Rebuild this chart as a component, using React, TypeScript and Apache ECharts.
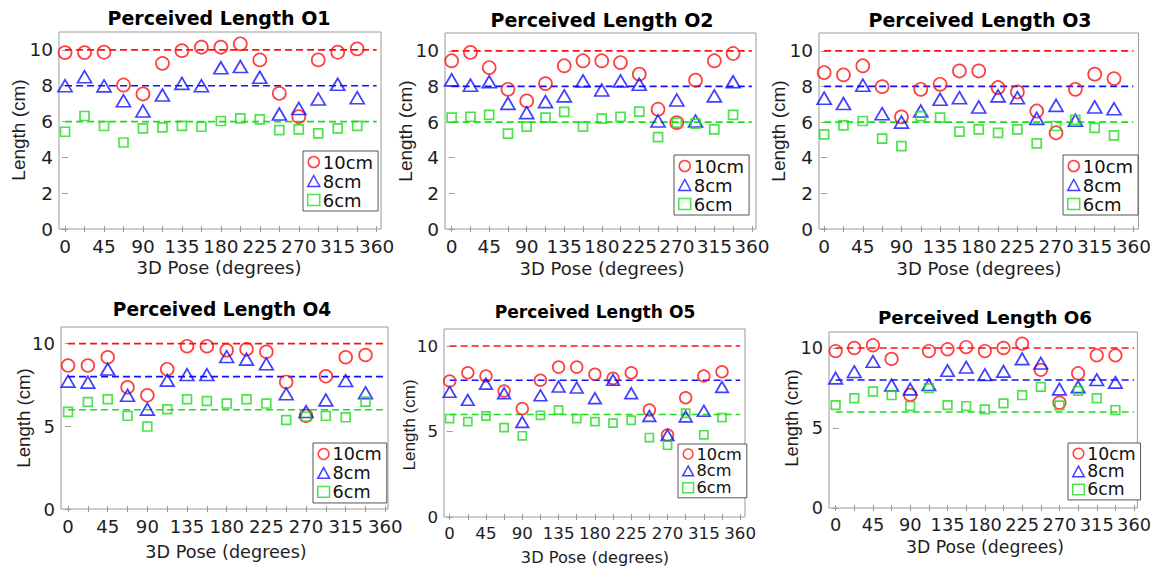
import React, { useEffect, useRef } from "react";
import * as echarts from "echarts";

// ---------- data ----------
const POSES = [0, 22.5, 45, 67.5, 90, 112.5, 135, 157.5, 180, 202.5, 225, 247.5, 270, 292.5, 315, 337.5];
const X_LABELS = [0, 45, 90, 135, 180, 225, 270, 315, 360];
const X_TICKS = [0, 22.5, 45, 67.5, 90, 112.5, 135, 157.5, 180, 202.5, 225, 247.5, 270, 292.5, 315, 337.5, 360];
const Y_TICKS_TOP = [0, 2, 4, 6, 8, 10];
const Y_TICKS_BOTTOM = [0, 5, 10];
const TARGETS = [10, 8, 6];
const SERIES_NAMES = ["10cm", "8cm", "6cm"];
const TITLES = [
  "Perceived Length O1",
  "Perceived Length O2",
  "Perceived Length O3",
  "Perceived Length O4",
  "Perceived Length O5",
  "Perceived Length O6",
];

const O1_10 = [9.85, 9.85, 9.87, 8.04, 7.54, 9.25, 9.96, 10.15, 10.15, 10.34, 9.44, 7.57, 6.27, 9.44, 9.87, 10.06];
const O1_8 = [8.0, 8.5, 7.99, 7.16, 6.59, 7.48, 8.13, 8.0, 9.0, 9.07, 8.47, 6.42, 6.73, 7.26, 8.08, 7.33];
const O1_6 = [5.43, 6.31, 5.75, 4.83, 5.62, 5.67, 5.76, 5.71, 6.03, 6.18, 6.12, 5.52, 5.56, 5.34, 5.62, 5.76];

const O2_10 = [9.44, 9.91, 9.06, 7.84, 7.19, 8.16, 9.16, 9.44, 9.44, 9.34, 8.69, 6.72, 5.97, 8.35, 9.44, 9.85];
const O2_8 = [8.37, 8.07, 8.26, 7.05, 6.53, 7.15, 7.47, 8.31, 7.8, 8.31, 8.12, 6.06, 7.24, 6.06, 7.47, 8.26];
const O2_6 = [6.25, 6.3, 6.4, 5.35, 5.74, 6.25, 6.57, 5.74, 6.19, 6.3, 6.59, 5.16, 5.97, 5.91, 5.59, 6.4];

const O3_10 = [8.78, 8.65, 9.16, 7.99, 6.29, 7.84, 8.12, 8.87, 8.87, 7.94, 7.69, 6.62, 5.4, 7.84, 8.69, 8.44];
const O3_8 = [7.34, 7.04, 8.07, 6.47, 6.0, 6.62, 7.28, 7.37, 6.85, 7.47, 7.37, 6.21, 6.94, 6.1, 6.85, 6.75];
const O3_6 = [5.31, 5.82, 6.06, 5.07, 4.65, 6.34, 6.25, 5.46, 5.59, 5.4, 5.59, 4.8, 5.78, 6.12, 5.68, 5.25];

const O4_10 = [8.67, 8.67, 9.17, 7.36, 6.87, 8.45, 9.84, 9.84, 9.6, 9.66, 9.5, 7.68, 5.63, 8.02, 9.17, 9.31];
const O4_8 = [7.72, 7.66, 8.45, 6.87, 6.03, 7.78, 8.12, 8.12, 9.21, 9.05, 8.77, 6.96, 5.89, 6.59, 7.76, 7.02];
const O4_6 = [5.87, 6.47, 6.63, 5.63, 4.98, 6.03, 6.63, 6.53, 6.37, 6.63, 6.37, 5.38, 5.58, 5.63, 5.54, 6.49];

const O5_10 = [7.96, 8.44, 8.25, 7.37, 6.34, 8.0, 8.77, 8.77, 8.35, 8.11, 8.44, 6.26, 4.79, 6.98, 8.25, 8.5];
const O5_8 = [7.32, 6.85, 7.8, 7.24, 5.56, 7.12, 7.63, 7.57, 6.95, 8.02, 7.24, 5.91, 4.79, 5.88, 6.21, 7.61];
const O5_6 = [5.76, 5.58, 5.91, 5.23, 4.75, 5.95, 6.26, 5.76, 5.58, 5.49, 5.66, 4.65, 4.2, 6.07, 4.81, 5.82];

const O6_10 = [9.81, 10.0, 10.17, 9.32, 7.07, 9.81, 9.92, 10.06, 9.81, 10.0, 10.27, 8.63, 6.58, 8.42, 9.54, 9.54];
const O6_8 = [8.12, 8.52, 9.16, 7.68, 7.43, 7.7, 8.59, 8.8, 8.33, 8.54, 9.32, 9.05, 7.43, 7.57, 8.02, 7.85];
const O6_6 = [6.43, 6.86, 7.28, 7.05, 6.37, 7.49, 6.43, 6.37, 6.16, 6.54, 7.05, 7.57, 6.41, 7.32, 6.86, 6.12];

const PANELS = [
  [O1_10, O1_8, O1_6],
  [O2_10, O2_8, O2_6],
  [O3_10, O3_8, O3_6],
  [O4_10, O4_8, O4_6],
  [O5_10, O5_8, O5_6],
  [O6_10, O6_8, O6_6],
];

// ---------- layout & style ----------
const GRIDS = [
  { left: 59, top: 32, width: 322, height: 197 },
  { left: 445, top: 33, width: 311, height: 196 },
  { left: 819, top: 33, width: 320, height: 196 },
  { left: 61, top: 327, width: 327, height: 182 },
  { left: 444, top: 329, width: 301, height: 188 },
  { left: 829, top: 332, width: 312, height: 176 },
];
const XRANGE = [
  [-7, 365],
  [-8, 365],
  [-6, 366],
  [-8, 363],
  [-7, 366],
  [-8, 364],
];
const SCALE = [1, 1, 1, 0.98, 0.9, 0.96];
const TITLE_POS = [
  [219, 18],
  [602, 20],
  [980, 20],
  [222, 309],
  [595, 312],
  [985, 317],
];
const XNAME_POS = [
  [219, 267],
  [602, 268],
  [979, 268],
  [226, 552],
  [595, 557],
  [985, 547],
];
const YNAME_POS = [
  [18, 130],
  [405, 131],
  [778, 131],
  [23, 418],
  [409, 425],
  [791, 418],
];
const LEGEND_POS = [
  [303, 151],
  [674, 155],
  [1063, 155],
  [313, 443],
  [678, 444],
  [1068, 443],
];
const COLORS = ["#ff1010", "#1010ff", "#1fdc1f"];
const SYMBOLS = ["circle", "triangle", "rect"];
const TEXT_COLOR = "#1e1e1e";
const AXIS_COLOR = "#9a9a9a";
const WIDE_FONT = "DejaVu Sans";
const NARROW_FONT = "Liberation Sans, Arial, sans-serif";

function buildOption() {
  const grid: any[] = [];
  const xAxis: any[] = [];
  const yAxis: any[] = [];
  const series: any[] = [];
  const title: any[] = [];
  const legend: any[] = [];
  const graphic: any[] = [];

  PANELS.forEach((panel, p) => {
    const s = SCALE[p];
    const g = GRIDS[p];
    const yTicks = p < 3 ? Y_TICKS_TOP : Y_TICKS_BOTTOM;
    grid.push({
      left: g.left,
      top: g.top,
      width: g.width,
      height: g.height,
      show: true,
      borderColor: AXIS_COLOR,
      borderWidth: 1,
      backgroundColor: "#ffffff",
      containLabel: false,
    });
    const xBase = {
      type: "value",
      gridIndex: p,
      min: XRANGE[p][0],
      max: XRANGE[p][1],
      splitLine: { show: false },
      axisLine: { show: false },
      axisTick: {
        show: true,
        inside: true,
        length: 3,
        customValues: X_TICKS,
        lineStyle: { color: AXIS_COLOR, width: 1 },
      },
    };
    xAxis.push({
      ...xBase,
      position: "bottom",
      axisLabel: {
        show: true,
        customValues: X_LABELS,
        margin: 8,
        color: TEXT_COLOR,
        fontFamily: WIDE_FONT,
        fontSize: 18.5 * s,
      },
    });
    xAxis.push({
      ...xBase,
      position: "top",
      axisLabel: { show: false },
    });
    const yBase = {
      type: "value",
      gridIndex: p,
      min: 0,
      max: 11,
      splitLine: { show: false },
      axisLine: { show: false },
      axisTick: {
        show: true,
        inside: true,
        length: 3,
        customValues: yTicks,
        lineStyle: { color: AXIS_COLOR, width: 1 },
      },
    };
    yAxis.push({
      ...yBase,
      position: "left",
      axisLabel: {
        show: true,
        customValues: yTicks,
        margin: 6,
        color: TEXT_COLOR,
        fontFamily: WIDE_FONT,
        fontSize: 18.5 * s,
      },
    });
    yAxis.push({
      ...yBase,
      position: "right",
      axisLabel: { show: false },
    });

    const xi = p * 2;
    const yi = p * 2;

    TARGETS.forEach((t, k) => {
      series.push({
        type: "line",
        name: "ref" + t + "_" + p,
        xAxisIndex: xi,
        yAxisIndex: yi,
        data: [
          [0, t],
          [360, t],
        ],
        symbol: "none",
        silent: true,
        z: 1,
        lineStyle: { color: COLORS[k], width: 1.7 * s, type: [7, 4] },
      });
    });

    panel.forEach((vals, k) => {
      const size =
        k === 0 ? 13 * s : k === 1 ? [14 * s, 12 * s] : 9 * s;
      series.push({
        type: "scatter",
        name: SERIES_NAMES[k],
        xAxisIndex: xi,
        yAxisIndex: yi,
        data: POSES.map((x, i) => [x, vals[i]]),
        symbol: SYMBOLS[k],
        symbolSize: size,
        z: 3,
        itemStyle: {
          color: "rgba(0,0,0,0)",
          borderColor: COLORS[k],
          borderWidth: 1.7,
        },
      });
    });

    title.push({
      text: TITLES[p],
      left: TITLE_POS[p][0],
      top: TITLE_POS[p][1],
      textAlign: "center",
      textVerticalAlign: "middle",
      padding: 0,
      textStyle: {
        fontFamily: WIDE_FONT,
        fontWeight: "bold",
        fontSize: 19 * s,
        color: "#000000",
      },
    });

    legend.push({
      orient: "vertical",
      left: LEGEND_POS[p][0],
      top: LEGEND_POS[p][1],
      padding: [2, 5, 2, 4],
      itemGap: 1 * s,
      itemWidth: 12 * s,
      itemHeight: 11 * s,
      borderColor: "#555555",
      borderWidth: 1,
      borderRadius: 0,
      backgroundColor: "#ffffff",
      selectedMode: false,
      textStyle: {
        fontFamily: WIDE_FONT,
        fontSize: 18 * s,
        color: "#111111",
        padding: [0, 0, 0, -2],
      },
      data: SERIES_NAMES.map((n, k) => ({
        name: n,
        icon: SYMBOLS[k],
        itemStyle: {
          color: "rgba(0,0,0,0)",
          borderColor: COLORS[k],
          borderWidth: 1.5,
        },
      })),
    });

    graphic.push({
      type: "text",
      x: XNAME_POS[p][0],
      y: XNAME_POS[p][1],
      silent: true,
      style: {
        text: "3D Pose (degrees)",
        fontFamily: WIDE_FONT,
        fontSize: 18 * s,
        fill: TEXT_COLOR,
        align: "center",
        verticalAlign: "middle",
      },
    });
    graphic.push({
      type: "text",
      x: YNAME_POS[p][0],
      y: YNAME_POS[p][1],
      rotation: Math.PI / 2,
      silent: true,
      style: {
        text: "Length (cm)",
        fontFamily: NARROW_FONT,
        fontSize: 19 * s,
        fill: TEXT_COLOR,
        align: "center",
        verticalAlign: "middle",
      },
    });
  });

  return {
    animation: false,
    backgroundColor: "#ffffff",
    title,
    legend,
    grid,
    xAxis,
    yAxis,
    series,
    graphic,
  };
}

export default function App() {
  const ref = useRef<HTMLDivElement>(null);
  useEffect(() => {
    if (!ref.current) return;
    const chart = echarts.init(ref.current, undefined, { renderer: "svg" });
    chart.setOption(buildOption() as any);
    return () => chart.dispose();
  }, []);
  return (
    <div
      ref={ref}
      style={{
        position: "fixed",
        left: 0,
        top: 0,
        width: 1154,
        height: 567,
        background: "#ffffff",
      }}
    />
  );
}
